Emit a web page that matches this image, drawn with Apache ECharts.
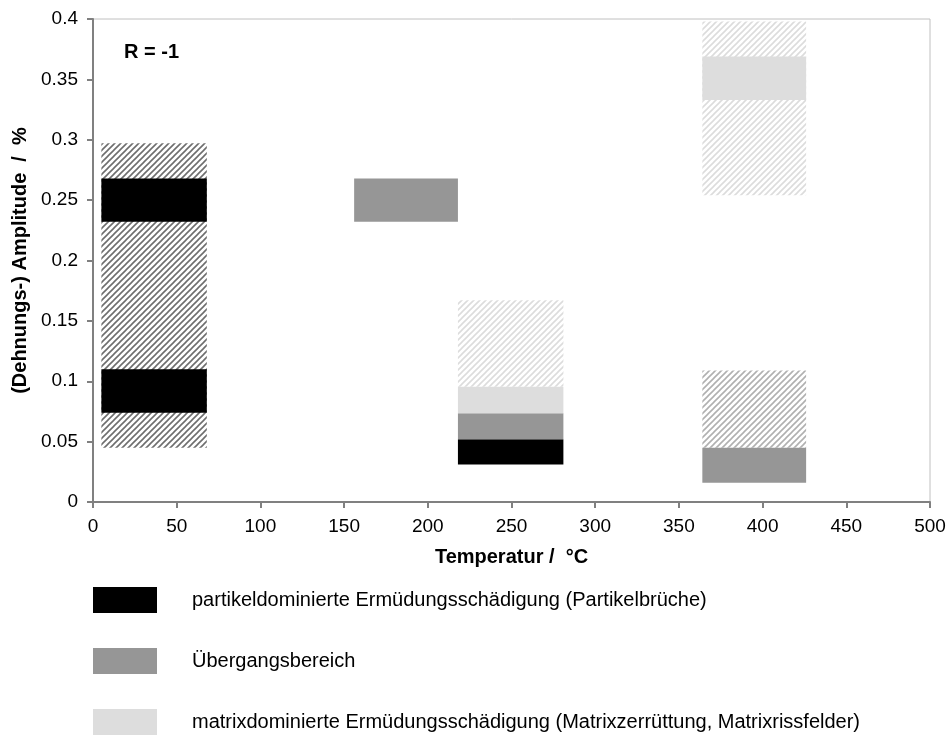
<!DOCTYPE html>
<html>
<head>
<meta charset="utf-8">
<script src="https://cdn.jsdelivr.net/npm/echarts@6/dist/echarts.min.js"></script>
<style>
  html, body {margin: 0; padding: 0; background: #fff;}
  #main {width: 949px; height: 738px;}
</style>
</head>
<body>
<div id="main"></div>
<script>
// each block: [x from, x to, amplitude from, amplitude to]
const particleName = 'partikeldominierte Ermüdungsschädigung (Partikelbrüche)';
const transitionName = 'Übergangsbereich';
const matrixName = 'matrixdominierte Ermüdungsschädigung (Matrixzerrüttung, Matrixrissfelder)';

const particleBlocks = [
  [5, 68, 0.232, 0.268],
  [5, 68, 0.074, 0.110],
  [218, 281, 0.031, 0.052]
];
const transitionBlocks = [
  [156, 218, 0.232, 0.268],
  [218, 281, 0.052, 0.0735],
  [364, 426, 0.016, 0.045]
];
const matrixBlocks = [
  [218, 281, 0.0735, 0.0955],
  [364, 426, 0.333, 0.369]
];
// hatched = uncertain ranges
const darkHatch = [[5, 68, 0.045, 0.297]];
const midHatch = [[364, 426, 0.045, 0.109]];
const lightHatch = [
  [218, 281, 0.0955, 0.167],
  [364, 426, 0.254, 0.398]
];

const xTicks = [0, 500, 50];
const yTicks = [0, 0.4, 0.05];

function hatch(color) {
  const s = 6;
  const c = document.createElement('canvas');
  c.width = s; c.height = s;
  const g = c.getContext('2d');
  g.strokeStyle = color;
  g.lineWidth = 1.6;
  g.beginPath();
  g.moveTo(-1, s + 1); g.lineTo(s + 1, -1);
  g.moveTo(-1, 1); g.lineTo(1, -1);
  g.moveTo(s - 1, s + 1); g.lineTo(s + 1, s - 1);
  g.stroke();
  return {image: c, repeat: 'repeat'};
}

function blockSeries(name, data, fill, z) {
  return {
    name: name,
    type: 'custom',
    z: z,
    itemStyle: {color: typeof fill === 'string' ? fill : '#999'},
    encode: {x: [0, 1], y: [2, 3]},
    data: data,
    renderItem(params, api) {
      const p0 = api.coord([api.value(0), api.value(3)]);
      const p1 = api.coord([api.value(1), api.value(2)]);
      return {
        type: 'rect',
        shape: {x: p0[0], y: p0[1], width: p1[0] - p0[0], height: p1[1] - p0[1]},
        style: {fill: fill}
      };
    }
  };
}

const myChart = echarts.init(document.getElementById('main'));
const font = 'Liberation Sans, Arial, sans-serif';

myChart.setOption({
  animation: false,
  textStyle: {fontFamily: font},
  title: {
    text: 'R = -1', left: 124, top: 42, padding: 0,
    textStyle: {fontFamily: font, fontSize: 20, fontWeight: 'bold', color: '#000'}
  },
  grid: {
    left: 93, right: 19, top: 19, bottom: 236,
    show: true, borderColor: '#c0c0c0', borderWidth: 1
  },
  legend: {
    data: [particleName, transitionName, matrixName],
    orient: 'vertical',
    left: 93, top: 587, padding: 0,
    itemWidth: 64, itemHeight: 26, itemGap: 35,
    icon: 'rect',
    selectedMode: false,
    textStyle: {fontFamily: font, fontSize: 20, color: '#000', padding: [0, 0, 0, 30]}
  },
  xAxis: {
    type: 'value',
    min: xTicks[0], max: xTicks[1], interval: xTicks[2],
    name: 'Temperatur /  °C',
    nameLocation: 'middle', nameGap: 45,
    nameTextStyle: {fontFamily: font, fontSize: 20, fontWeight: 'bold', color: '#000'},
    axisLine: {lineStyle: {color: '#808080', width: 2}},
    axisTick: {length: 6, lineStyle: {color: '#808080', width: 2}},
    axisLabel: {fontFamily: font, fontSize: 19, color: '#000', margin: 15},
    splitLine: {show: false}
  },
  yAxis: {
    type: 'value',
    min: yTicks[0], max: yTicks[1], interval: yTicks[2],
    name: '(Dehnungs-) Amplitude  /  %',
    nameLocation: 'middle', nameGap: 61,
    nameTextStyle: {fontFamily: font, fontSize: 20, fontWeight: 'bold', color: '#000'},
    axisLine: {show: true, lineStyle: {color: '#808080', width: 2}},
    axisTick: {show: true, length: 6, lineStyle: {color: '#808080', width: 2}},
    axisLabel: {fontFamily: font, fontSize: 19, color: '#000', margin: 15},
    splitLine: {show: false}
  },
  series: [
    blockSeries('', darkHatch, hatch('#6e6e6e'), 1),
    blockSeries(' ', midHatch, hatch('#b0b0b0'), 1),
    blockSeries('  ', lightHatch, hatch('#dcdcdc'), 1),
    blockSeries(particleName, particleBlocks, '#000000', 2),
    blockSeries(transitionName, transitionBlocks, '#969696', 2),
    blockSeries(matrixName, matrixBlocks, '#dddddd', 2)
  ]
});
</script>
</body>
</html>
